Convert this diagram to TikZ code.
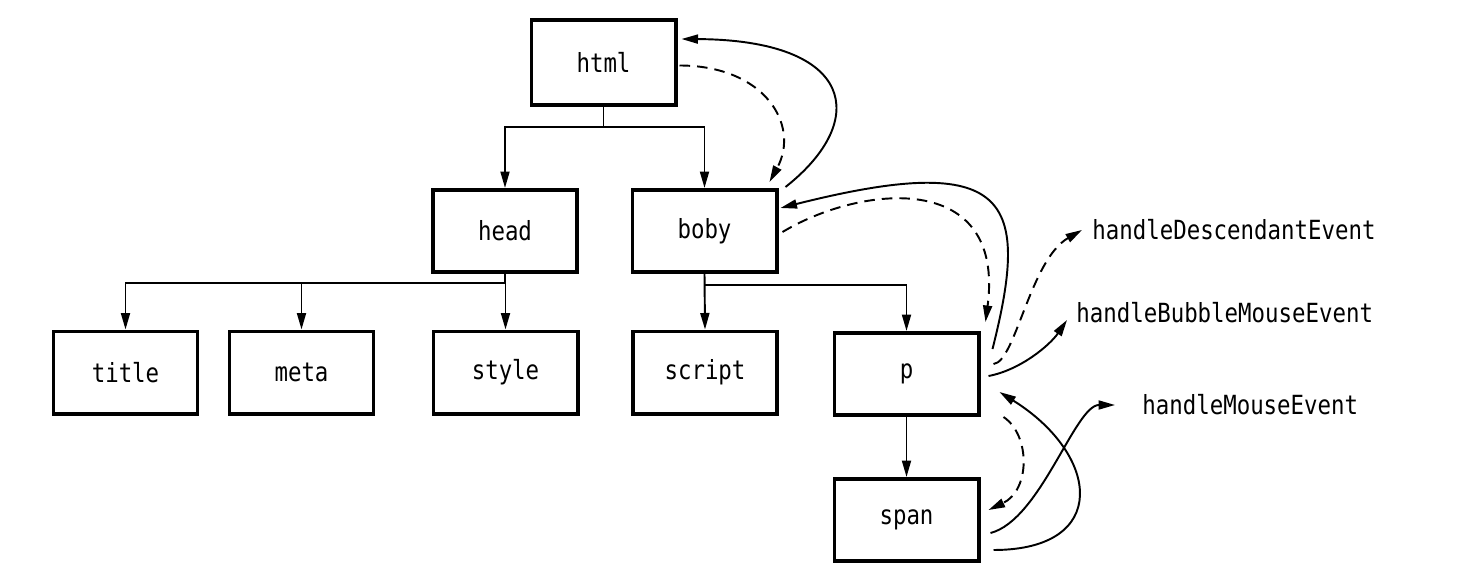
\documentclass[tikz,border=0pt]{standalone}
\usepackage{fontspec}
\newfontfamily\codefont[FakeStretch=0.85]{DejaVu Sans Mono}
\usetikzlibrary{calc,arrows.meta}
\tikzset{
  ar/.style={-{Triangle[length=3.3mm,width=1.8mm]},line width=1.1pt},
  dar/.style={ar,dash pattern=on 6pt off 4pt},
  box/.style={draw,line width=2pt,minimum width=2.89cm,minimum height=1.65cm,
    font=\codefont\fontsize{15}{16}\selectfont},
  lbl/.style={anchor=west,inner sep=0pt,font=\codefont\fontsize{15}{16}\selectfont}
}
\begin{document}
\begin{tikzpicture}[x=0.02cm,y=-0.02cm]
\useasboundingbox (0,0) rectangle (1480,574);
% the tree
\node[box,minimum height=1.71cm] (html) at (603.5,62.5) {html};
\node[box] (head) at (505,231) {head};
\node[box] (boby) at (704.5,231) {boby};
\node[box] (title) at (125.5,372.5) {title};
\node[box] (meta) at (301.5,372.5) {meta};
\node[box] (style) at (505.5,372.5) {style};
\node[box] (script) at (705,372.5) {script};
\node[box] (p) at (906.5,374) {p};
\node[box] (span) at (906.5,520) {span};
% handlers
\node[lbl] (hde) at (1092,230) {handleDescendantEvent};
\node[lbl] (hbme) at (1076,313) {handleBubbleMouseEvent};
\node[lbl] (hme) at (1142,405) {handleMouseEvent};
\draw[ar] (html.south) -- ++(0,20) -| (head.north);
\draw[ar] (html.south) -- ++(0,20) -| (boby.north);
\foreach \c in {title,meta,style}
  \draw[ar] (head.south) -- ++(0,9) -| (\c.north);
\draw[ar] (boby.south) -- (script.north);
\draw[ar] (boby.south) -- ++(0,11) -| (p.north);
\draw[ar] (p.south) -- (span.north);
% event paths
\draw[ar] ($(boby.north east)+(7,-1)$) .. controls +(85,-67) and +(173,1) .. ($(html.north east)+(4,21)$);
\draw[dar] ($(html.east)+(2,3)$) .. controls +(85,0) and +(31,-57) .. ($(boby.north east)+(-9,-6)$);
\draw[ar] ($(p.north east)+(12,18)$) .. controls +(38,-150) and +(230,-58) .. ($(boby.north east)+(2,20)$);
\draw[dar] ($(boby.east)+(4,1)$) .. controls +(78,-47) and +(20,-153) .. ($(p.north east)+(5,-9)$);
\draw[dar] ($(p.east)+(13,-10)$) .. controls +(22,-2) and +(-52,30) .. ($(hde.west)+(-10,0)$);
\draw[ar] ($(p.east)+(8,2)$) .. controls +(32,-6) and +(-17,25) .. ($(hbme.west)+(-9,7)$);
\draw[ar] ($(span.east)+(13,30)$) .. controls +(117,0) and +(101,63) .. ($(p.east)+(19,18)$);
\draw[ar] ($(span.east)+(10,13)$) .. controls +(50,-13) and +(-40,0) .. ($(hme.west)+(-27,0)$);
\draw[dar] ($(p.south east)+(23,0)$) .. controls +(27,18) and +(42,-20) .. ($(span.east)+(8,-10)$);
\end{tikzpicture}
\end{document}
